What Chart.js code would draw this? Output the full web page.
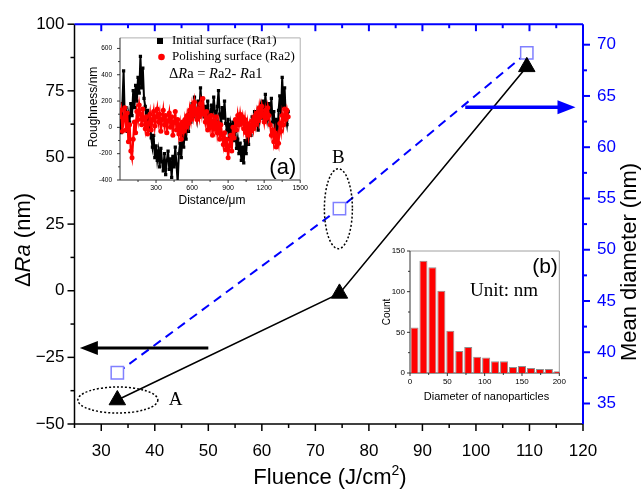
<!DOCTYPE html>
<html>
<head>
<meta charset="utf-8">
<title>Fluence vs ΔRa and mean diameter</title>
<script src="https://cdn.jsdelivr.net/npm/chart.js@4.4.3/dist/chart.umd.min.js"></script>
<style>
  body { margin: 0; background: #fff; }
  .wrap { position: relative; width: 644px; height: 489px; }
  .wrap canvas { position: absolute; }
  #main { left: 0; top: 0; }
  #insetA { left: 78px; top: 26px; }
  #insetB { left: 380px; top: 240px; }
</style>
</head>
<body>
<div class="wrap">
  <canvas id="main" width="644" height="489"></canvas>
  <canvas id="insetA" width="234" height="184"></canvas>
  <canvas id="insetB" width="190" height="165"></canvas>
</div>
<script>
// main plot
const fluence = [33, 74.5, 109.5]
const deltaRa = [-41, -1, 84]
const meanDiameter = [38, 54, 69.2]
const xTicks = [30, 40, 50, 60, 70, 80, 90, 100, 110, 120]
const yTicks = [-50, -25, 0, 25, 50, 75, 100]
const y2Ticks = [35, 40, 45, 50, 55, 60, 65, 70]

// inset (a): roughness profiles, one value every 10 um from 0 to 1400
const distanceStep = 10
const roughness1 = [120, -40, 180, 430, 60, 150, -30, 100, 40, 180, 90, 280, 150, 320, 200, 380, 260, 540, 300, 450,
  220, 160, 60, 130, -20, 50, -80, -150, -60, -230, -140, -250, -180, -300, -160, -260, -330, -200, -360, -250,
  -180, -320, -240, -380, -220, -300, -150, -280, -420, -200, -120, -230, -60, -150, -20, -90, 40, -30, 120, 40,
  180, 80, 230, 120, 60, 200, 100, 300, 150, 220, 80, 160, 40, 200, 110, 60, 170, 90, 230, 120,
  50, 160, 280, 100, 40, 150, 70, 200, 30, -20, 60, -80, 20, -60, 40, -100, -30, -160, -90, -200,
  -120, -250, -150, -270, -100, -200, -60, -130, 20, -60, 80, 10, 120, 30, 100, -20, 60, 150, 70, 200,
  90, 250, 130, 60, 180, 100, 220, 40, 120, -40, 60, -100, 130, 240, 100, 380, 160, 300, 80, 20, 120]
const roughness2 = [80, 130, -30, 60, 150, -20, 110, -110, 20, -180, -230, -90, 40, -40, 120, 60, 170, 100, 20, 140,
  60, -10, 80, -50, 30, 100, -20, 60, 120, 10, 80, 140, 40, 100, -30, 60, 130, 20, 90, -40,
  50, 110, 0, 80, -60, 40, 120, -20, 60, -50, 20, -90, 40, -30, 60, 0, 90, 30, 130, 60,
  160, 90, 190, 120, 60, 140, 80, 180, 110, 220, 100, 40, 120, -20, 70, 0, 90, -60, 50, -10,
  80, -40, 30, -90, 20, -60, -130, -40, -170, -90, -230, -140, -60, -180, 0, -80, 60, -20, 90, 20,
  100, 30, 80, -10, 60, -40, 30, -60, 20, -30, 50, -10, 80, 20, 110, 50, 150, 80, 160, 100,
  40, 130, 70, 150, 90, 20, -60, -20, -110, -40, -150, -70, -120, 30, -30, 90, 20, 140, 60, 130, 80]
const roughXTicks = [300, 600, 900, 1200, 1500]
const roughYTicks = [-400, -200, 0, 200, 400, 600]

// inset (b): size histogram
const binCenters = [6, 18, 30, 42, 54, 66, 78, 90, 102, 114, 126, 138, 150, 162, 174, 186, 198]
const binCounts = [56, 138, 130, 101, 52, 27, 32, 20, 19, 14.5, 14.5, 7.5, 8.7, 6, 5, 5, 2]
const histXTicks = [0, 50, 100, 150, 200]
const histYTicks = [0, 50, 100, 150]

const SANS = '"Liberation Sans", Arial, sans-serif'
const SERIF = '"Liberation Serif", "Times New Roman", serif'

function line(ctx, x1, y1, x2, y2) {
  ctx.beginPath(); ctx.moveTo(x1, y1); ctx.lineTo(x2, y2); ctx.stroke()
}

// parts: [text, font, dy]
function richText(ctx, parts, x, y, align) {
  let w = 0
  parts.forEach(p => { ctx.font = p[1]; w += ctx.measureText(p[0]).width })
  let cx = align === 'center' ? x - w / 2 : align === 'right' ? x - w : x
  ctx.textAlign = 'left'
  ctx.textBaseline = 'middle'
  parts.forEach(p => {
    ctx.font = p[1]
    ctx.fillText(p[0], cx, y + (p[2] || 0))
    cx += ctx.measureText(p[0]).width
  })
}

function arrow(ctx, x1, y1, x2, y2, color, lw, hl, hw) {
  const ang = Math.atan2(y2 - y1, x2 - x1)
  const bx = x2 - Math.cos(ang) * hl, by = y2 - Math.sin(ang) * hl
  ctx.strokeStyle = color; ctx.fillStyle = color; ctx.lineWidth = lw
  line(ctx, x1, y1, bx + Math.cos(ang) * 2, by + Math.sin(ang) * 2)
  ctx.beginPath()
  ctx.moveTo(x2, y2)
  ctx.lineTo(bx - Math.sin(ang) * hw, by + Math.cos(ang) * hw)
  ctx.lineTo(bx + Math.sin(ang) * hw, by - Math.cos(ang) * hw)
  ctx.closePath()
  ctx.fill()
}

const fixedTicks = list => scale => { scale.ticks = list.map(v => ({ value: v })) }
const plain = v => String(v)

// annotation spots in data units
const noteA = { x: 33.1, y: -41, labelX: 43.9 }
const noteB = { x: 74.3, y2: 54, labelY: 49.8 }
const leftArrow = { from: 50, to: 26, y: -21.5 }
const rightArrow = { from: 98, to: 118.6, y2: 63.9 }

const mainDecor = {
  id: 'mainDecor',
  beforeDatasetsDraw(chart) {
    const { ctx, chartArea: a, scales: { x, y, y2 } } = chart
    ctx.save()
    ctx.strokeStyle = '#000'
    ctx.lineWidth = 1.5
    line(ctx, a.left, a.top, a.left, a.bottom)
    line(ctx, a.left, a.bottom, a.right, a.bottom)
    for (let v = -50; v <= 100; v += 12.5) {
      const p = y.getPixelForValue(v)
      line(ctx, a.left, p, a.left - (v % 25 === 0 ? 7 : 4), p)
    }
    for (let v = 25; v <= 120; v += 5) {
      const p = x.getPixelForValue(v)
      line(ctx, p, a.bottom, p, a.bottom + (v % 10 === 0 ? 7 : 4))
    }
    ctx.strokeStyle = '#0000ff'
    ctx.lineWidth = 2
    line(ctx, a.left, a.top, a.right, a.top)
    line(ctx, a.right, a.top, a.right, a.bottom)
    for (let v = 30; v <= 115; v += 5) {
      const p = x.getPixelForValue(v)
      line(ctx, p, a.top, p, a.top + (v % 10 === 0 ? 7 : 4))
    }
    for (let v = 35; v <= 70; v += 2.5) {
      const p = y2.getPixelForValue(v)
      line(ctx, a.right, p, a.right + (v % 5 === 0 ? 7 : 4), p)
    }
    ctx.restore()
  },
  afterDatasetsDraw(chart) {
    const { ctx, scales: { x, y, y2 } } = chart
    ctx.save()
    // arrows pointing to the axes
    arrow(ctx, x.getPixelForValue(leftArrow.from), y.getPixelForValue(leftArrow.y),
      x.getPixelForValue(leftArrow.to), y.getPixelForValue(leftArrow.y), '#000', 3, 18, 7)
    arrow(ctx, x.getPixelForValue(rightArrow.from), y2.getPixelForValue(rightArrow.y2),
      x.getPixelForValue(rightArrow.to), y2.getPixelForValue(rightArrow.y2), '#0000ff', 3.5, 18, 7)
    // dotted ellipses
    ctx.strokeStyle = '#000'
    ctx.lineWidth = 1.5
    ctx.setLineDash([2, 2])
    ctx.beginPath()
    ctx.ellipse(x.getPixelForValue(noteA.x), y.getPixelForValue(noteA.y), 40, 13, 0, 0, Math.PI * 2)
    ctx.stroke()
    ctx.beginPath()
    ctx.ellipse(x.getPixelForValue(noteB.x), y2.getPixelForValue(noteB.y2), 14, 40, 0, 0, Math.PI * 2)
    ctx.stroke()
    ctx.setLineDash([])
    ctx.fillStyle = '#000'
    ctx.font = '19px ' + SERIF
    ctx.textAlign = 'center'
    ctx.textBaseline = 'middle'
    ctx.fillText('A', x.getPixelForValue(noteA.labelX), y.getPixelForValue(noteA.y))
    ctx.fillText('B', x.getPixelForValue(noteB.x), y.getPixelForValue(noteB.labelY))
    // axis titles
    const tf = '22px ' + SANS
    ctx.save()
    ctx.translate(24, 240)
    ctx.rotate(-Math.PI / 2)
    richText(ctx, [['Δ', tf], ['Ra', 'italic ' + tf], [' (nm)', tf]], 0, 0, 'center')
    ctx.restore()
    ctx.save()
    ctx.translate(630, 262)
    ctx.rotate(-Math.PI / 2)
    richText(ctx, [['Mean diameter (nm)', tf]], 0, 0, 'center')
    ctx.restore()
    richText(ctx, [['Fluence (J/cm', tf], ['2', '14px ' + SANS, -7], [')', tf]], 330, 478, 'center')
    ctx.restore()
  }
}

new Chart(document.getElementById('main'), {
  type: 'line',
  data: {
    datasets: [
      {
        label: 'ΔRa',
        data: fluence.map((f, i) => ({ x: f, y: deltaRa[i] })),
        yAxisID: 'y',
        borderColor: '#000',
        borderWidth: 1.6,
        pointStyle: 'triangle',
        pointRadius: 9.5,
        pointBackgroundColor: '#000',
        pointBorderColor: '#000',
        pointBorderWidth: 1,
        tension: 0
      },
      {
        label: 'Mean diameter',
        data: fluence.map((f, i) => ({ x: f, y: meanDiameter[i] })),
        yAxisID: 'y2',
        borderColor: '#0000ff',
        borderWidth: 2,
        borderDash: [9, 6],
        pointStyle: 'rect',
        pointRadius: 8.7,
        pointBackgroundColor: '#fff',
        pointBorderColor: '#8080ff',
        pointBorderWidth: 1.5,
        tension: 0
      }
    ]
  },
  options: {
    responsive: false,
    animation: false,
    devicePixelRatio: 1,
    layout: { padding: { top: 15, left: 0, right: 0, bottom: 0 } },
    plugins: { legend: { display: false }, tooltip: { enabled: false } },
    scales: {
      x: {
        type: 'linear', min: 25, max: 120,
        afterBuildTicks: fixedTicks(xTicks),
        afterFit: s => { s.height = 65 },
        grid: { display: false, drawTicks: false },
        border: { display: false },
        ticks: { color: '#000', font: { family: SANS, size: 17 }, padding: 17, maxRotation: 0, autoSkip: false, callback: plain }
      },
      y: {
        type: 'linear', position: 'left', min: -50, max: 100,
        afterBuildTicks: fixedTicks(yTicks),
        afterFit: s => { s.width = 74.5 },
        grid: { display: false, drawTicks: false },
        border: { display: false },
        ticks: { color: '#000', font: { family: SANS, size: 17 }, padding: 10, callback: v => String(v).replace('-', '\u2212') }
      },
      y2: {
        type: 'linear', position: 'right', min: 33, max: 72,
        afterBuildTicks: fixedTicks(y2Ticks),
        afterFit: s => { s.width = 61 },
        grid: { display: false, drawTicks: false },
        border: { display: false },
        ticks: { color: '#0000ff', font: { family: SANS, size: 17 }, padding: 14, callback: plain }
      }
    }
  },
  plugins: [mainDecor]
})

// ---- inset (a)
const insetADecor = {
  id: 'insetADecor',
  beforeDatasetsDraw(chart) {
    const { ctx, chartArea: a, scales: { x, y } } = chart
    ctx.save()
    ctx.fillStyle = '#fff'
    ctx.fillRect(a.left, a.top, a.right - a.left, a.bottom - a.top)
    ctx.strokeStyle = '#b0b0b0'
    ctx.lineWidth = 1
    line(ctx, a.left, a.top, a.right, a.top)
    line(ctx, a.right, a.top, a.right, a.bottom)
    ctx.strokeStyle = '#333'
    line(ctx, a.left, a.top, a.left, a.bottom)
    line(ctx, a.left, a.bottom, a.right, a.bottom)
    for (let v = -400; v <= 600; v += 100) {
      const p = y.getPixelForValue(v)
      line(ctx, a.left, p, a.left - (v % 200 === 0 ? 3 : 2), p)
    }
    for (let v = 150; v <= 1500; v += 150) {
      const p = x.getPixelForValue(v)
      line(ctx, p, a.bottom, p, a.bottom + (v % 300 === 0 ? 3 : 2))
    }
    ctx.restore()
  },
  afterDatasetsDraw(chart) {
    const { ctx, chartArea: a } = chart
    ctx.save()
    ctx.fillStyle = '#000'
    // legend
    ctx.fillRect(79, 12, 6, 6)
    ctx.fillStyle = '#ff0000'
    ctx.beginPath(); ctx.arc(83.5, 31, 3.3, 0, Math.PI * 2); ctx.fill()
    ctx.fillStyle = '#000'
    const lf = '13px ' + SERIF
    richText(ctx, [['Initial surface (Ra1)', lf]], 94, 15, 'left')
    richText(ctx, [['Polishing surface (Ra2)', lf]], 94, 31, 'left')
    const ff = '14.5px ' + SERIF
    richText(ctx, [['Δ', ff], ['R', 'italic ' + ff], ['a = ', ff], ['R', 'italic ' + ff], ['a2- ', ff], ['R', 'italic ' + ff], ['a1', ff]], 91, 48, 'left')
    richText(ctx, [['(a)', '22px ' + SANS]], a.right - 4, 142, 'right')
    // titles
    richText(ctx, [['Distance/μm', '12px ' + SANS]], 134, 175, 'center')
    ctx.save()
    ctx.translate(16, 81)
    ctx.rotate(-Math.PI / 2)
    richText(ctx, [['Roughness/nm', '12px ' + SANS]], 0, 0, 'center')
    ctx.restore()
    ctx.restore()
  }
}

new Chart(document.getElementById('insetA'), {
  type: 'line',
  data: {
    datasets: [
      {
        label: 'Initial surface (Ra1)',
        data: roughness1.map((v, i) => ({ x: i * distanceStep, y: v })),
        order: 2,
        borderColor: '#000',
        borderWidth: 2,
        pointStyle: 'rect',
        pointRadius: 2.3,
        pointBackgroundColor: '#000',
        pointBorderWidth: 0,
        tension: 0
      },
      {
        label: 'Polishing surface (Ra2)',
        data: roughness2.map((v, i) => ({ x: i * distanceStep, y: v })),
        order: 1,
        borderColor: '#ff0000',
        borderWidth: 2.2,
        pointStyle: 'circle',
        pointRadius: 2.5,
        pointBackgroundColor: '#ff0000',
        pointBorderWidth: 0,
        tension: 0
      }
    ]
  },
  options: {
    responsive: false,
    animation: false,
    devicePixelRatio: 1,
    layout: { padding: { top: 10, right: 7, left: 0, bottom: 0 } },
    plugins: { legend: { display: false }, tooltip: { enabled: false } },
    scales: {
      x: {
        type: 'linear', min: 0, max: 1500,
        afterBuildTicks: fixedTicks(roughXTicks),
        afterFit: s => { s.height = 30 },
        grid: { display: false, drawTicks: false },
        border: { display: false },
        ticks: { color: '#000', font: { family: SANS, size: 7 }, padding: 4, maxRotation: 0, autoSkip: false, callback: plain }
      },
      y: {
        type: 'linear', min: -400, max: 680,
        afterBuildTicks: fixedTicks(roughYTicks),
        afterFit: s => { s.width = 42 },
        grid: { display: false, drawTicks: false },
        border: { display: false },
        ticks: { color: '#000', font: { family: SANS, size: 6.5 }, padding: 8, callback: plain }
      }
    }
  },
  plugins: [insetADecor]
})

// ---- inset (b)
const insetBDecor = {
  id: 'insetBDecor',
  beforeDatasetsDraw(chart) {
    const { ctx, chartArea: a, scales: { x, y } } = chart
    ctx.save()
    ctx.fillStyle = '#fff'
    ctx.fillRect(a.left, a.top, a.right - a.left, a.bottom - a.top)
    ctx.strokeStyle = '#a0a0a0'
    ctx.lineWidth = 1
    line(ctx, a.left, a.top, a.right, a.top)
    line(ctx, a.right, a.top, a.right, a.bottom)
    ctx.strokeStyle = '#333'
    line(ctx, a.left, a.top, a.left, a.bottom)
    line(ctx, a.left, a.bottom, a.right, a.bottom)
    for (let v = 0; v <= 150; v += 25) {
      const p = y.getPixelForValue(v)
      line(ctx, a.left, p, a.left - (v % 50 === 0 ? 3 : 2), p)
    }
    for (let v = 0; v <= 200; v += 25) {
      const p = x.getPixelForValue(v)
      line(ctx, p, a.bottom, p, a.bottom + (v % 50 === 0 ? 3 : 2))
    }
    ctx.restore()
  },
  afterDatasetsDraw(chart) {
    const { ctx } = chart
    ctx.save()
    ctx.fillStyle = '#000'
    richText(ctx, [['(b)', '21px ' + SANS]], 165, 27, 'center')
    richText(ctx, [['Unit: nm', '19px ' + SERIF]], 124, 51, 'center')
    richText(ctx, [['Diameter of nanoparticles', '11px ' + SANS]], 106.5, 157, 'center')
    ctx.save()
    ctx.translate(7, 72)
    ctx.rotate(-Math.PI / 2)
    richText(ctx, [['Count', '10px ' + SANS]], 0, 0, 'center')
    ctx.restore()
    ctx.restore()
  }
}

new Chart(document.getElementById('insetB'), {
  type: 'bar',
  data: {
    datasets: [{
      label: 'Count',
      data: binCenters.map((c, i) => ({ x: c, y: binCounts[i] })),
      backgroundColor: '#ff0000',
      borderColor: '#909090',
      borderWidth: 1,
      barPercentage: 0.9,
      categoryPercentage: 1
    }]
  },
  options: {
    responsive: false,
    animation: false,
    devicePixelRatio: 1,
    layout: { padding: { top: 11, right: 7, left: 0, bottom: 0 } },
    plugins: { legend: { display: false }, tooltip: { enabled: false } },
    scales: {
      x: {
        type: 'linear', min: 0, max: 200, offset: false,
        afterBuildTicks: fixedTicks(histXTicks),
        afterFit: s => { s.height = 32 },
        grid: { display: false, drawTicks: false },
        border: { display: false },
        ticks: { color: '#000', font: { family: SANS, size: 8 }, padding: 4, maxRotation: 0, autoSkip: false, callback: plain }
      },
      y: {
        type: 'linear', min: 0, max: 150,
        afterBuildTicks: fixedTicks(histYTicks),
        afterFit: s => { s.width = 30 },
        grid: { display: false, drawTicks: false },
        border: { display: false },
        ticks: { color: '#000', font: { family: SANS, size: 8 }, padding: 5, callback: plain }
      }
    }
  },
  plugins: [insetBDecor]
})
</script>
</body>
</html>
